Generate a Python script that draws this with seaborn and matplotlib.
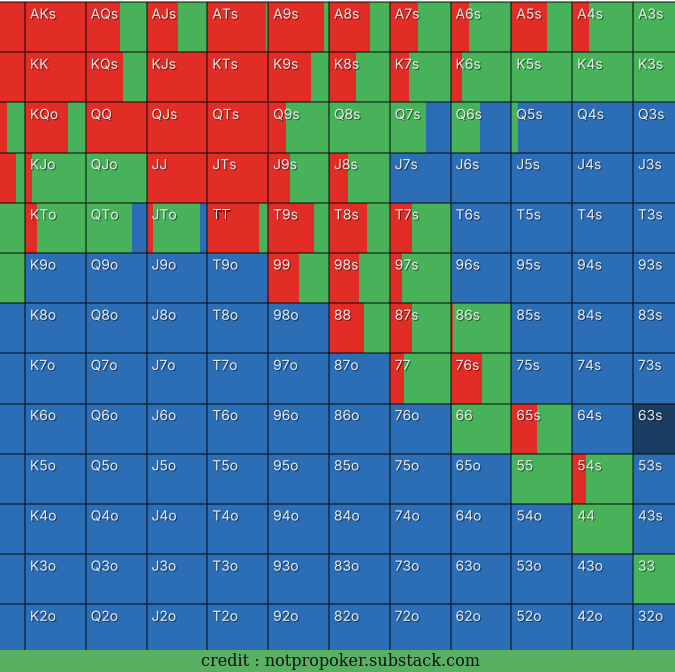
import numpy as np
import pandas as pd
import matplotlib
matplotlib.use("Agg")
import matplotlib.pyplot as plt
import matplotlib.patheffects as pe
from matplotlib.colors import ListedColormap
from matplotlib.patches import Rectangle
import seaborn as sns

ranks = list("AKQJT98765432")

# raise frequency per cell (rows = first rank, cols = second rank)
raise_freq = [
    [1.00, 1.00, 0.56, 0.52, 0.97, 0.92, 0.68, 0.47, 0.30, 0.58, 0.27, 0.00, 0.00],  # A
    [1.00, 1.00, 0.62, 1.00, 1.00, 0.70, 0.44, 0.31, 0.18, 0.00, 0.00, 0.00, 0.00],  # K
    [0.71, 0.70, 1.00, 1.00, 0.98, 0.30, 0.00, 0.00, 0.00, 0.00, 0.00, 0.00, 0.00],  # Q
    [0.85, 0.12, 0.00, 1.00, 1.00, 0.36, 0.31, 0.00, 0.00, 0.00, 0.00, 0.00, 0.00],  # J
    [0.45, 0.19, 0.00, 0.11, 0.85, 0.76, 0.63, 0.36, 0.00, 0.00, 0.00, 0.00, 0.00],  # T
    [0.30, 0.00, 0.00, 0.00, 0.00, 0.51, 0.49, 0.20, 0.00, 0.00, 0.00, 0.00, 0.00],  # 9
    [0.00, 0.00, 0.00, 0.00, 0.00, 0.00, 0.58, 0.37, 0.04, 0.00, 0.00, 0.00, 0.00],  # 8
    [0.00, 0.00, 0.00, 0.00, 0.00, 0.00, 0.00, 0.24, 0.51, 0.00, 0.00, 0.00, 0.00],  # 7
    [0.00, 0.00, 0.00, 0.00, 0.00, 0.00, 0.00, 0.00, 0.03, 0.42, 0.00, 0.00, 0.00],  # 6
    [0.00, 0.00, 0.00, 0.00, 0.00, 0.00, 0.00, 0.00, 0.00, 0.00, 0.23, 0.00, 0.00],  # 5
    [0.00, 0.00, 0.00, 0.00, 0.00, 0.00, 0.00, 0.00, 0.00, 0.00, 0.00, 0.00, 0.00],  # 4
    [0.00, 0.00, 0.00, 0.00, 0.00, 0.00, 0.00, 0.00, 0.00, 0.00, 0.00, 0.00, 0.00],  # 3
    [0.00, 0.00, 0.00, 0.00, 0.00, 0.00, 0.00, 0.00, 0.00, 0.00, 0.00, 0.00, 0.00],  # 2
]

# call frequency per cell
call_freq = [
    [0.00, 0.00, 0.44, 0.48, 0.03, 0.08, 0.32, 0.53, 0.70, 0.42, 0.73, 1.00, 1.00],  # A
    [0.00, 0.00, 0.38, 0.00, 0.00, 0.30, 0.56, 0.69, 0.82, 1.00, 1.00, 1.00, 1.00],  # K
    [0.29, 0.30, 0.00, 0.00, 0.02, 0.70, 1.00, 0.59, 0.48, 0.10, 0.00, 0.00, 0.00],  # Q
    [0.15, 0.88, 1.00, 0.00, 0.00, 0.64, 0.69, 0.00, 0.00, 0.00, 0.00, 0.00, 0.00],  # J
    [0.55, 0.81, 0.76, 0.77, 0.15, 0.24, 0.37, 0.64, 0.00, 0.00, 0.00, 0.00, 0.00],  # T
    [0.70, 0.00, 0.00, 0.00, 0.00, 0.49, 0.51, 0.80, 0.00, 0.00, 0.00, 0.00, 0.00],  # 9
    [0.00, 0.00, 0.00, 0.00, 0.00, 0.00, 0.42, 0.63, 0.96, 0.00, 0.00, 0.00, 0.00],  # 8
    [0.00, 0.00, 0.00, 0.00, 0.00, 0.00, 0.00, 0.76, 0.49, 0.00, 0.00, 0.00, 0.00],  # 7
    [0.00, 0.00, 0.00, 0.00, 0.00, 0.00, 0.00, 0.00, 0.97, 0.58, 0.00, 0.00, 0.00],  # 6
    [0.00, 0.00, 0.00, 0.00, 0.00, 0.00, 0.00, 0.00, 0.00, 1.00, 0.77, 0.00, 0.00],  # 5
    [0.00, 0.00, 0.00, 0.00, 0.00, 0.00, 0.00, 0.00, 0.00, 0.00, 1.00, 0.00, 0.00],  # 4
    [0.00, 0.00, 0.00, 0.00, 0.00, 0.00, 0.00, 0.00, 0.00, 0.00, 0.00, 1.00, 0.00],  # 3
    [0.00, 0.00, 0.00, 0.00, 0.00, 0.00, 0.00, 0.00, 0.00, 0.00, 0.00, 0.00, 1.00],  # 2
]

highlight_hands = ["63s"]
# columns whose hand labels are visible in the cropped view (K .. 3)
label_cols = list(range(1, 12))
credit_text = "credit : notpropoker.substack.com"

RED = "#E22D27"
GREEN = "#47B25A"
BLUE = "#2C6EB5"
NAVY = "#1C3C64"
BAR_GREEN = "#58B063"


def hand_label(i, j):
    if i == j:
        return ranks[i] + ranks[j]
    if j > i:
        return ranks[i] + ranks[j] + "s"
    return ranks[j] + ranks[i] + "o"


labels = [[hand_label(i, j) for j in range(13)] for i in range(13)]
base = pd.DataFrame(
    [[1 if labels[i][j] in highlight_hands else 0 for j in range(13)] for i in range(13)],
    index=ranks, columns=ranks,
)
raise_arr = np.array(raise_freq)
call_arr = np.array(call_freq)

fig = plt.figure(figsize=(6.75, 6.72), dpi=100, facecolor="#1c1c1c")
ax = fig.add_axes([0, 22 / 672, 1, 650 / 672])

sns.heatmap(base, cmap=ListedColormap([BLUE, NAVY]), vmin=0, vmax=1, cbar=False,
            xticklabels=False, yticklabels=False, ax=ax)

rows = np.arange(13) + 0.5
for j in range(13):
    ax.barh(rows, raise_arr[:, j], left=j, height=1.0, color=RED, linewidth=0)
    ax.barh(rows, call_arr[:, j], left=j + raise_arr[:, j], height=1.0, color=GREEN, linewidth=0)

ax.vlines(np.arange(14), 0, 13, color="black", alpha=0.6, lw=1.1)
ax.hlines(np.arange(14), 0, 13, color="black", alpha=0.6, lw=1.1)

shadow = [pe.SimplePatchShadow(offset=(0.8, -0.8), shadow_rgbFace="black", alpha=0.45), pe.Normal()]
for i in range(13):
    for j in label_cols:
        ax.text(j + 0.08, i + 0.11, labels[i][j], ha="left", va="top", color="#e9e9e9",
                fontsize=10, family=["Inter", "DejaVu Sans"], path_effects=shadow, clip_on=True)

ax.set_xlim(0.589, 11.69)
ax.set_ylim(12.91, -0.042)
ax.set_xticks([])
ax.set_yticks([])
for s in ax.spines.values():
    s.set_visible(False)

fig.add_artist(Rectangle((0, 0), 1, 22 / 672, transform=fig.transFigure, color=BAR_GREEN, zorder=0))
fig.text(0.505, 6.3 / 672, credit_text, ha="center", va="baseline", family="DejaVu Serif",
         fontsize=11.5, color="#111111")

fig.savefig("out.png", dpi=100, facecolor=fig.get_facecolor())
